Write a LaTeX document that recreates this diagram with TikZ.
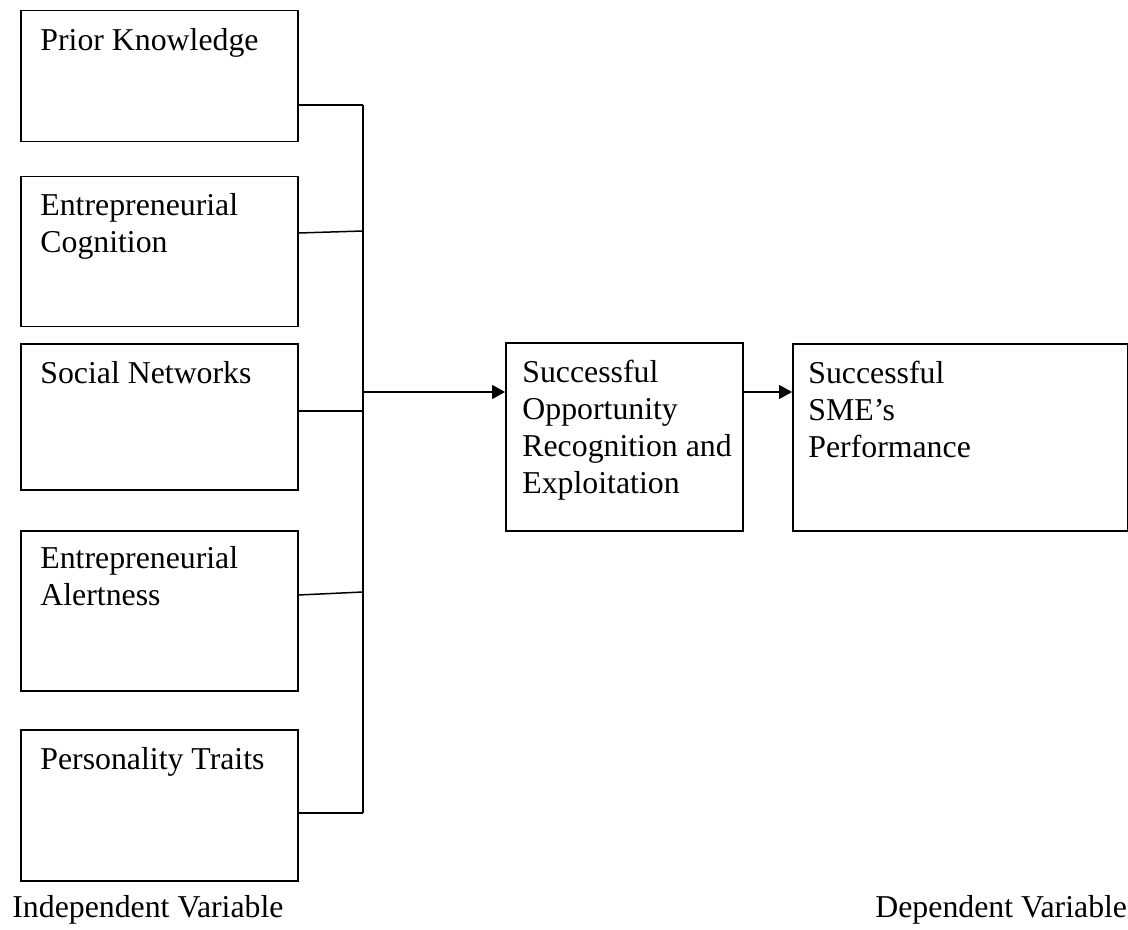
\documentclass[tikz,border=0pt]{standalone}
\usepackage{fontspec}
\setmainfont{Liberation Serif}
\usetikzlibrary{arrows.meta,positioning}

\begin{document}
\begin{tikzpicture}[x=0.5pt,y=-0.5pt,
  factor/.style={draw,line width=0.75pt,anchor=north west,minimum width=138.5pt,inner sep=0pt},
  txt/.style={anchor=north west,align=left,inner sep=0pt,font=\fontsize{15.9}{18.5}\selectfont},
  vartag/.style={anchor=base west,inner sep=0pt,font=\fontsize{15.9}{18.5}\selectfont},
  link/.style={line width=0.75pt},
  arr/.style={line width=0.75pt,-{Triangle[length=6.5pt,width=7pt]}}]
\useasboundingbox (0,0) rectangle (1128,930);
% independent variables
\node[factor,minimum height=65.5pt] (f1) at (20,10) {};
\node[factor,minimum height=75pt] (f2) at (20,176) {};
\node[factor,minimum height=73pt] (f3) at (20,343) {};
\node[factor,minimum height=80pt] (f4) at (20,530) {};
\node[factor,minimum height=75.5pt] (f5) at (20,729) {};
\node[txt] (t1) at ([xshift=10pt,yshift=-9.1pt]f1.north west) {Prior Knowledge};
\node[txt] (t2) at ([xshift=10pt,yshift=-8.6pt]f2.north west) {Entrepreneurial\\Cognition};
\node[txt] (t3) at ([xshift=10pt,yshift=-9.1pt]f3.north west) {Social Networks};
\node[txt] (t4) at ([xshift=10pt,yshift=-8.1pt]f4.north west) {Entrepreneurial\\Alertness};
\node[txt] (t5) at ([xshift=10pt,yshift=-9.1pt]f5.north west) {Personality Traits};
% mediator and outcome
\node[factor,minimum width=118.5pt,minimum height=94pt] (sor) at (505,342) {};
\node[factor,minimum width=167.5pt,minimum height=93.5pt] (perf) at (792,343) {};
\node[txt] (t6) at ([xshift=8.5pt,yshift=-9.1pt]sor.north west) {Successful\\Opportunity\\Recognition and\\Exploitation};
\node[txt] (t7) at ([xshift=8pt,yshift=-9.1pt]perf.north west) {Successful\\SME’s\\Performance};
% bus
\coordinate (b1) at (363,105);
\coordinate (b2) at (363,231);
\coordinate (b3) at (363,411);
\coordinate (b4) at (363,592);
\coordinate (b5) at (363,813);
\coordinate (hub) at (363,392);
\draw[link] (b1) -- (b5);
\draw[link] (f1.east |- b1) -- (b1);
\draw[link] ([yshift=-1pt]f2.east |- b2) -- (b2);
\draw[link] (f3.east |- b3) -- (b3);
\draw[link] ([yshift=-1.5pt]f4.east |- b4) -- (b4);
\draw[link] (f5.east |- b5) -- (b5);
\draw[arr] (hub) -- (hub -| sor.west);
\draw[arr] (sor.east |- hub) -- (perf.west |- hub);
% captions
\node[vartag] (iv) at (12,917) {Independent Variable};
\node[vartag] (dv) at (875,917) {Dependent Variable};
\end{tikzpicture}
\end{document}
